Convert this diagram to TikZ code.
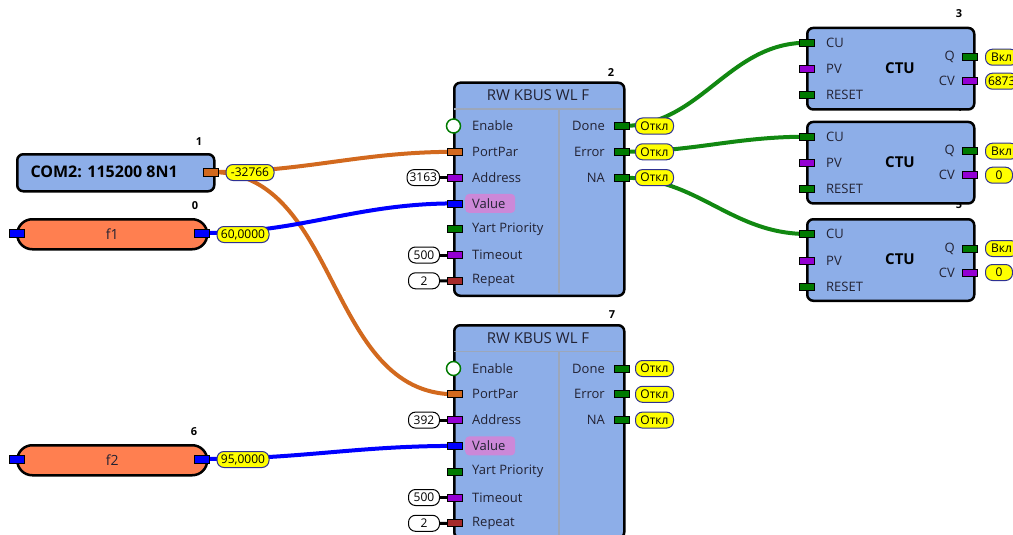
\documentclass[tikz,border=0pt]{standalone}
\usepackage{fontspec}
\setmainfont{Open Sans}
\usepackage{xcolor}
\usetikzlibrary{positioning,calc,backgrounds}
\definecolor{blockblue}{HTML}{8DAEE8}
\definecolor{blockline}{HTML}{9CA7BA}
\definecolor{fcoral}{HTML}{FF7F50}
\definecolor{tagyellow}{HTML}{FFFF00}
\definecolor{tagborder}{HTML}{2E3192}
\definecolor{pinorange}{HTML}{D2691E}
\definecolor{pinpurple}{HTML}{9400D3}
\definecolor{pinblue}{HTML}{0000FF}
\definecolor{pingreen}{HTML}{007A00}
\definecolor{pinred}{HTML}{A52A2A}
\definecolor{valuepink}{HTML}{CC88D8}
\definecolor{wiregreen}{HTML}{118811}
\definecolor{labeltext}{HTML}{222233}
\tikzset{
  fbody/.style={draw=black,line width=2.5pt,rounded corners=6pt,fill=blockblue,
                anchor=north west,inner sep=0pt},
  pinbox/.style={draw=black,line width=0.8pt,minimum width=15pt,minimum height=7pt,
                 inner sep=0pt},
  tagbox/.style={draw=tagborder,line width=1pt,fill=tagyellow,rounded corners=7pt,
                 minimum height=16pt,inner sep=2.5pt,text=black,
                 font=\fontsize{12}{12}\selectfont},
  constbox/.style={draw=black,line width=1pt,fill=white,rounded corners=7pt,
                   minimum height=16pt,minimum width=31pt,inner sep=2.5pt,anchor=east,
                   font=\fontsize{12}{12}\selectfont},
  pinlabel/.style={font=\fontsize{13}{13}\selectfont,text=labeltext,inner sep=0pt},
  blocknum/.style={font=\fontsize{11}{11}\selectfont\bfseries},
  wire/.style={line width=4pt,out=0,in=180},
  constwire/.style={line width=3pt},
}

\begin{document}
\begin{tikzpicture}[x=1pt,y=-1pt,
  fpill/.style={draw=black,line width=2.5pt,fill=fcoral,rounded corners=15pt,
    minimum width=190pt,minimum height=30pt,anchor=north west,
    font=\fontsize{14}{14}\selectfont,text=labeltext}]
  \useasboundingbox (0,0) rectangle (1013,535);
  % block numbers go first, the bodies may cover them
  \node[blocknum] (n1) at (199,142) {1};
  \node[blocknum] (n0) at (195,206) {0};
  \node[blocknum] (n6) at (194,432) {6};
  \node[blocknum] (n2) at (611,73) {2};
  \node[blocknum] (n7) at (612,315) {7};
  \foreach \ctu/\top in {3/26.7,4/120.7,5/218}
    \node[blocknum] (n\ctu) at (959,\top-13) {\ctu};

  % port settings and the two set points
  \node[fbody,minimum width=197pt,minimum height=37pt] (com) at (16,153) {};
  \node[anchor=west,font=\fontsize{16}{16}\selectfont\bfseries] (comtxt) at (27,172) {COM2: 115200 8N1};
  \node[pinbox,fill=pinorange,minimum height=8pt] (compin) at (211,172) {};
  \node[tagbox,minimum width=48pt] (comtag) at (250,172.5) {-32766};

  \node[fpill] (f1) at (16,218) {f1};
  \node[pinbox,fill=pinblue,minimum height=8pt] (f1in) at (17,233) {};
  \node[pinbox,fill=pinblue,minimum height=8pt] (f1out) at (202,233) {};
  \node[tagbox,minimum width=52pt] (f1tag) at (243,234.5) {60,0000};

  \node[fpill] (f2) at (16,444) {f2};
  \node[pinbox,fill=pinblue,minimum height=8pt] (f2in) at (17,459) {};
  \node[pinbox,fill=pinblue,minimum height=8pt] (f2out) at (202,459) {};
  \node[tagbox,minimum width=52pt] (f2tag) at (243,459.5) {95,0000};

  % two RW KBUS WL F blocks
  \foreach \blk/\top/\addr in {2/81.5/3163,7/324/392}{
    \begin{scope}[shift={(453,\top)}]
      \node[fbody,minimum width=170pt,minimum height=213pt] (b\blk) at (0,0) {};
      \draw[blockline,line width=1.5pt] (1.3,27.5) -- (168.7,27.5);
      \draw[blockline,line width=1.5pt] (106,27.5) -- (106,211.7);
      \node[font=\fontsize{15}{15}\selectfont,text=labeltext] (b\blk-title) at (85,14) {RW KBUS WL F};
      \node[fill=valuepink,rounded corners=4pt,minimum width=50pt,minimum height=19pt,
            anchor=west] (b\blk-hl) at (12,121.9) {};
      \node[circle,draw=pingreen,line width=1.5pt,fill=white,minimum size=14pt,
            inner sep=0pt] (b\blk-in1) at (0.5,44.5) {};
      \node[pinlabel,anchor=west] (b\blk-lab1) at (19,44.5) {Enable};
      \foreach \row/\lab/\pc in {2/PortPar/pinorange,3/Address/pinpurple,4/Value/pinblue,
                                 5/Yart Priority/pingreen,6/Timeout/pinpurple,7/Repeat/pinred}{
        \node[pinbox,fill=\pc] (b\blk-in\row) at (2,{44.5+25.8*(\row-1)}) {};
        \node[pinlabel,anchor=west] (b\blk-lab\row) at (19,{44.5+25.8*(\row-1)}) {\lab};
      }
      \foreach \row/\lab in {1/Done,2/Error,3/NA}{
        \node[pinbox,fill=pingreen] (b\blk-out\row) at (169,{44.5+25.8*(\row-1)}) {};
        \node[pinlabel,anchor=east] (b\blk-olab\row) at (152,{44.5+25.8*(\row-1)}) {\lab};
        \node[tagbox,anchor=west,minimum width=38pt] (b\blk-tag\row) at (182,{44.5+25.8*(\row-1)}) {Откл};
      }
      \node[constbox] (b\blk-c3) at (-13,96.1) {\addr};
      \node[constbox] (b\blk-c6) at (-13,173.5) {500};
      \node[constbox] (b\blk-c7) at (-13,199.3) {2};
      \draw[constwire] (b\blk-c3) -- (b\blk-in3);
      \draw[constwire] (b\blk-c6) -- (b\blk-in6);
      \draw[constwire] (b\blk-c7) -- (b\blk-in7);
    \end{scope}
  }

  % three counters on the right
  \foreach \ctu/\top/\cv in {3/26.7/6873,4/120.7/0,5/218/0}{
    \begin{scope}[shift={(806,\top)}]
      \node[fbody,minimum width=167pt,minimum height=81.5pt] (c\ctu) at (0,0) {};
      \node[font=\fontsize{15}{15}\selectfont\bfseries] (c\ctu-name) at (94,41.5) {CTU};
      \foreach \row/\lab/\pc/\yy in {1/CU/pingreen/16,2/PV/pinpurple/42.5,3/RESET/pingreen/68.5}{
        \node[pinbox,fill=\pc] (c\ctu-in\row) at (1,\yy) {};
        \node[pinlabel,anchor=west] (c\ctu-lab\row) at (20,\yy) {\lab};
      }
      \foreach \row/\lab/\pc/\yy in {1/Q/pingreen/30.5,2/CV/pinpurple/54.5}{
        \node[pinbox,fill=\pc] (c\ctu-out\row) at (164,\yy) {};
        \node[pinlabel,anchor=east] (c\ctu-olab\row) at (149,\yy) {\lab};
      }
      \node[tagbox,anchor=west,minimum width=32pt] (c\ctu-q) at (179,30.5) {Вкл};
      \node[tagbox,anchor=west,minimum width=27pt] (c\ctu-cv) at (179,54.5) {\cv};
    \end{scope}
  }

  % wires run under the blocks and tags
  \begin{scope}[on background layer]
    \draw[wire,draw=pinorange] (compin.center) to (b2-in2.center);
    \draw[wire,draw=pinorange] (compin.center) to (b7-in2.center);
    \draw[wire,draw=pinblue] (f1out.center) to (b2-in4.center);
    \draw[wire,draw=pinblue] (f2out.center) to (b7-in4.center);
    \draw[wire,draw=wiregreen] (b2-out1.center) to (c3-in1.center);
    \draw[wire,draw=wiregreen] (b2-out2.center) to (c4-in1.center);
    \draw[wire,draw=wiregreen] (b2-out3.center) to (c5-in1.center);
  \end{scope}
\end{tikzpicture}
\end{document}
